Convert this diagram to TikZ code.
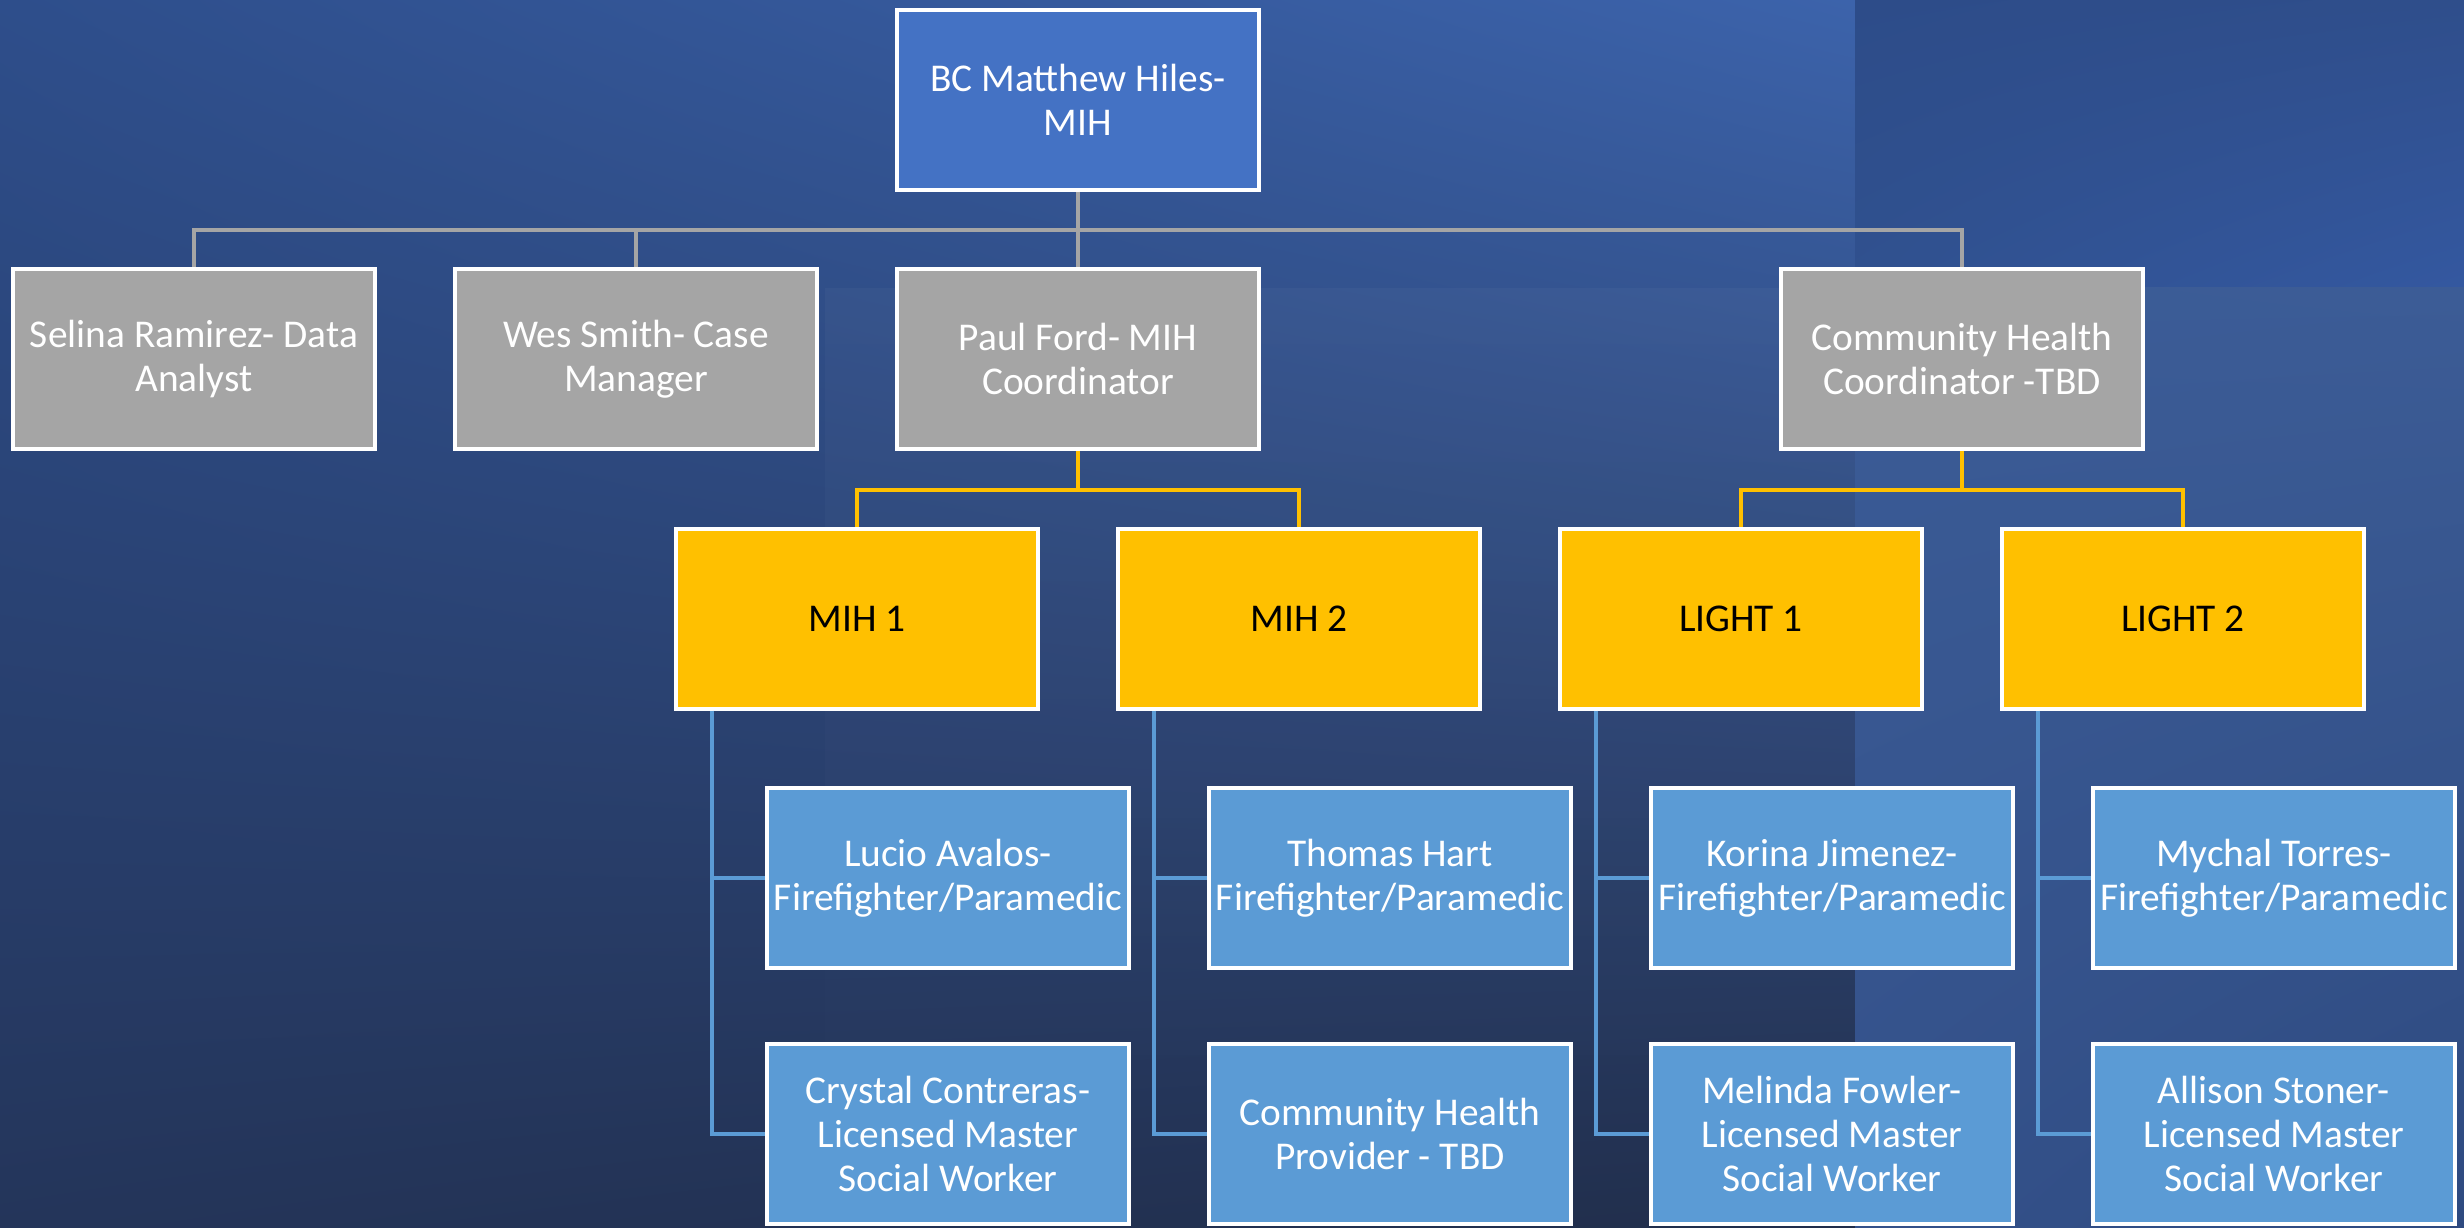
\documentclass[tikz,border=0pt]{standalone}
\usepackage{fontspec}
\setmainfont{Carlito}
\usetikzlibrary{shadings,fadings}

\definecolor{bgtl}{HTML}{2E4E8B}
\definecolor{bgtr}{HTML}{3C63AB}
\definecolor{bgbl}{HTML}{24355A}
\definecolor{bgbr}{HTML}{212E4B}
\definecolor{rtul}{HTML}{2D4C89}
\definecolor{rtur}{HTML}{2F4E8B}
\definecolor{rtll}{HTML}{30518F}
\definecolor{rtlr}{HTML}{3458A0}
\definecolor{rbul}{HTML}{3B5C97}
\definecolor{rbur}{HTML}{3C5C96}
\definecolor{rbll}{HTML}{34518A}
\definecolor{rblr}{HTML}{2E4A80}
\definecolor{bossblue}{HTML}{4472C4}
\definecolor{staffgray}{HTML}{A5A5A5}
\definecolor{teamgold}{HTML}{FFC000}
\definecolor{memberblue}{HTML}{5B9BD5}

\tikzset{
  box/.style={draw=white,line width=0.04cm,minimum width=3.62cm,minimum height=1.80cm,
    inner sep=1pt,align=center,font=\fontsize{11.2}{12.5}\selectfont},
  bossbox/.style={box,fill=bossblue,text=white},
  staffbox/.style={box,fill=staffgray,text=white},
  teambox/.style={box,fill=teamgold,text=black},
  memberbox/.style={box,fill=memberblue,text=white},
  graylink/.style={draw=staffgray,line width=0.035cm},
  goldlink/.style={draw=teamgold,line width=0.035cm},
  bluelink/.style={draw=memberblue,line width=0.035cm}
}

\begin{document}
\begin{tikzpicture}
\useasboundingbox (0,0) rectangle (24.64,-12.28);
\shade[upper left=bgtl,upper right=bgtr,lower left=bgbl,lower right=bgbr] (0,0) rectangle (18.55,-12.28);
\fill[white,fill opacity=0.03,path fading=south] (8.25,-2.88) rectangle (18.55,-12.28);
\shade[upper left=rtul,upper right=rtur,lower left=rtll,lower right=rtlr] (18.55,0) rectangle (24.64,-2.88);
\shade[upper left=rbul,upper right=rbur,lower left=rbll,lower right=rblr] (18.55,-2.88) rectangle (24.64,-12.28);

\node[bossbox] (boss) at (10.78,-1.00) {BC Matthew Hiles-\\MIH};

\node[staffbox] (selina) at (1.94,-3.59) {Selina Ramirez- Data\\Analyst};
\node[staffbox] (wes) at (6.36,-3.59) {Wes Smith- Case\\Manager};
\node[staffbox] (paul) at (10.78,-3.59) {Paul Ford- MIH\\Coordinator};
\node[staffbox] (chc) at (19.62,-3.59) {Community Health\\Coordinator -TBD};

\node[teambox] (mih1) at (8.57,-6.19) {MIH 1};
\node[teambox] (mih2) at (12.99,-6.19) {MIH 2};
\node[teambox] (light1) at (17.41,-6.19) {LIGHT 1};
\node[teambox] (light2) at (21.83,-6.19) {LIGHT 2};

\node[memberbox] (lucio) at (9.48,-8.78) {Lucio Avalos-\\Firefighter/Paramedic};
\node[memberbox] (crystal) at (9.48,-11.34) {Crystal Contreras-\\Licensed Master\\Social Worker};
\node[memberbox] (thomas) at (13.90,-8.78) {Thomas Hart\\Firefighter/Paramedic};
\node[memberbox] (chp) at (13.90,-11.34) {Community Health\\Provider - TBD};
\node[memberbox] (korina) at (18.32,-8.78) {Korina Jimenez-\\Firefighter/Paramedic};
\node[memberbox] (melinda) at (18.32,-11.34) {Melinda Fowler-\\Licensed Master\\Social Worker};
\node[memberbox] (mychal) at (22.74,-8.78) {Mychal Torres-\\Firefighter/Paramedic};
\node[memberbox] (allison) at (22.74,-11.34) {Allison Stoner-\\Licensed Master\\Social Worker};

\coordinate (staffbus) at (10.78,-2.30);
\draw[graylink] (boss) -- (staffbus);
\draw[graylink] (selina.north) |- (staffbus) -| (chc.north);
\draw[graylink] (wes.north) -- (wes.north |- staffbus);
\draw[graylink] (staffbus) -- (paul.north);

\coordinate (mihbus) at (10.78,-4.90);
\coordinate (lightbus) at (19.62,-4.90);
\draw[goldlink] (paul) -- (mihbus);
\draw[goldlink] (mih1.north) |- (mihbus) -| (mih2.north);
\draw[goldlink] (chc) -- (lightbus);
\draw[goldlink] (light1.north) |- (lightbus) -| (light2.north);

\foreach \team/\first/\second in {mih1/lucio/crystal,mih2/thomas/chp,light1/korina/melinda,light2/mychal/allison}{
  \draw[bluelink] ([xshift=0.38cm]\team.south west) |- (\first.west);
  \draw[bluelink] ([xshift=0.38cm]\team.south west) |- (\second.west);
}
\end{tikzpicture}
\end{document}
